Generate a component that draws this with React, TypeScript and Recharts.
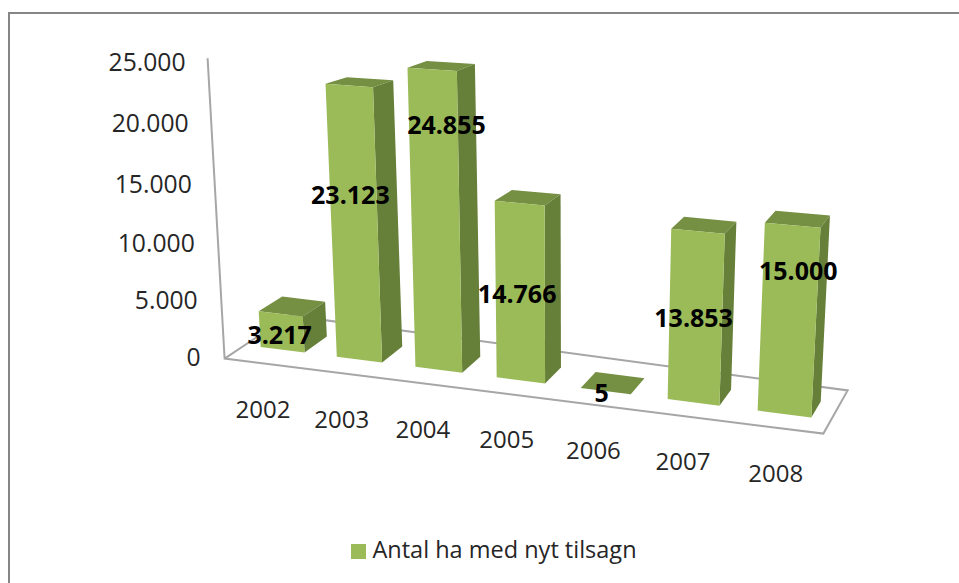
import { BarChart, Bar, XAxis, YAxis, Legend, LabelList, Customized } from 'recharts'

const years = ['2002', '2003', '2004', '2005', '2006', '2007', '2008']
const hectares = [3217, 23123, 24855, 14766, 5, 13853, 15000]
const yTicks = [0, 5000, 10000, 15000, 20000, 25000]
const seriesName = 'Antal ha med nyt tilsagn'

const W = 959
const H = 583
// flat plot box that recharts lays out; everything is then bent into the 3D view
const PLOT = { left: 100, top: 100, width: 700, height: 300 }
const MAX = 25000

// where the front plane of the bars lands on screen
const Q = { x0: 245, y0: 345, x1: 831, y1: 420, x2: 848, y2: 95, x3: 228, y3: 54 }
const FLOOR_FRONT = -0.85
const FLOOR_BACK = 1.85

// hand placed in the original chart, px offset from the middle of the front face
const labelShift = [
  [-2, 2],
  [-4, -32],
  [11, -100],
  [-3, 0],
  [-4, 1],
  [-2, -1],
  [10, -51],
]

const FRONT = '#9bbb59'
const SIDE = '#667f39'
const TOP = '#758f43'
const AXIS = '#a6a6a6'
const FONT = '"Open Sans", sans-serif'

const den =
  (Q.x1 - Q.x2) * (Q.y3 - Q.y2) - (Q.x3 - Q.x2) * (Q.y1 - Q.y2)
const sx = Q.x0 - Q.x1 + Q.x2 - Q.x3
const sy = Q.y0 - Q.y1 + Q.y2 - Q.y3
const g = (sx * (Q.y3 - Q.y2) - (Q.x3 - Q.x2) * sy) / den
const h = ((Q.x1 - Q.x2) * sy - sx * (Q.y1 - Q.y2)) / den
const a = Q.x1 - Q.x0 + g * Q.x1
const b = Q.x3 - Q.x0 + h * Q.x3
const d = Q.y1 - Q.y0 + g * Q.y1
const e = Q.y3 - Q.y0 + h * Q.y3

// u: 0-1 along the categories, v: 0-1 up the value axis, w: depth in bar depths
function project(u: number, v: number, w = 0): [number, number] {
  const n = g * u + h * v + 1
  const x = (a * u + b * v + Q.x0) / n
  const y = (d * u + e * v + Q.y0) / n
  return [x + w * (24 - 15 * u), y + w * (-16 + v * (11 - 5 * u))]
}

const toU = (x: number) => (x - PLOT.left) / PLOT.width
const toV = (y: number) => (PLOT.top + PLOT.height - y) / PLOT.height

const pts = (list: [number, number][]) => list.map((p) => p.join(',')).join(' ')

function Bar3D(props: any) {
  const { x, y, width, height } = props
  const u0 = toU(x)
  const u1 = toU(x + width)
  const v0 = toV(y + height)
  const v1 = toV(y)
  return (
    <g>
      <polygon
        fill={TOP}
        points={pts([project(u0, v1), project(u1, v1), project(u1, v1, 1), project(u0, v1, 1)])}
      />
      <polygon
        fill={SIDE}
        points={pts([project(u1, v0), project(u1, v0, 1), project(u1, v1, 1), project(u1, v1)])}
      />
      <polygon
        fill={FRONT}
        points={pts([project(u0, v0), project(u1, v0), project(u1, v1), project(u0, v1)])}
      />
    </g>
  )
}

function Floor() {
  const corners = [
    project(0, 1, FLOOR_FRONT),
    project(0, 0, FLOOR_FRONT),
    project(1, 0, FLOOR_FRONT),
    project(1, 0, FLOOR_BACK),
    project(0, 0, FLOOR_BACK),
    project(0, 0, FLOOR_FRONT),
  ]
  return <polyline points={pts(corners)} fill="none" stroke={AXIS} strokeWidth={2} />
}

function YTick(props: any) {
  const v = toV(props.y)
  const [px, py] = project(0, v, FLOOR_FRONT)
  return (
    <text x={px - 24 + 2 * v} y={py - 2 + 5 * v} textAnchor="end" dominantBaseline="central" fontFamily={FONT} fontSize={24.7} fill="#262626">
      {formatValue(props.payload.value)}
    </text>
  )
}

function XTick(props: any) {
  const [px, py] = project(toU(props.x), 0, FLOOR_FRONT)
  return (
    <text x={px} y={py + 45} textAnchor="middle" dominantBaseline="central" fontFamily={FONT} fontSize={24} fill="#262626">
      {props.payload.value}
    </text>
  )
}

function formatValue(n: number) {
  return String(n).replace(/\B(?=(\d{3})+$)/g, '.')
}

function BarLabel(props: any) {
  const { x, y, width, height, value, index } = props
  const [px, py] = project(toU(x + width / 2), toV(y + height / 2))
  const [sx0, sy0] = labelShift[index]
  return (
    <text
      x={px + sx0}
      y={py + sy0}
      textAnchor="middle"
      dominantBaseline="central"
      fontFamily={FONT}
      fontWeight={700}
      fontSize={25}
      fill="#000"
    >
      {formatValue(value)}
    </text>
  )
}

const data = years.map((year, i) => ({ year, hectares: hectares[i] }))

export default function App() {
  return (
    <div style={{ position: 'absolute', left: 0, top: 0, width: W, height: H, background: '#fff', overflow: 'hidden' }}>
      <div
        style={{
          position: 'absolute',
          left: 8,
          top: 12,
          width: 1000,
          height: 600,
          border: '2px solid #868686',
        }}
      />
      <div style={{ position: 'absolute', left: 0, top: 0 }}>
        <BarChart
          width={W}
          height={H}
          data={data}
          barCategoryGap="21%"
          margin={{
            left: PLOT.left - 60,
            top: PLOT.top,
            right: W - PLOT.left - PLOT.width,
            bottom: H - PLOT.top - PLOT.height - 30,
          }}
        >
          <Customized component={Floor} />
          <XAxis dataKey="year" height={30} axisLine={false} tickLine={false} tick={XTick} interval={0} />
          <YAxis width={60} domain={[0, MAX]} ticks={yTicks} axisLine={false} tickLine={false} tick={YTick} />
          <Legend
            verticalAlign="middle"
            align="center"
            iconType="square"
            iconSize={15}
            wrapperStyle={{ top: 533, left: 344, width: 310, fontFamily: FONT, fontSize: 23.5 }}
            formatter={(value) => <span style={{ color: '#262626', marginLeft: 2 }}>{value}</span>}
          />
          <Bar dataKey="hectares" name={seriesName} fill={FRONT} shape={Bar3D} isAnimationActive={false}>
            <LabelList dataKey="hectares" content={BarLabel} />
          </Bar>
        </BarChart>
      </div>
    </div>
  )
}
